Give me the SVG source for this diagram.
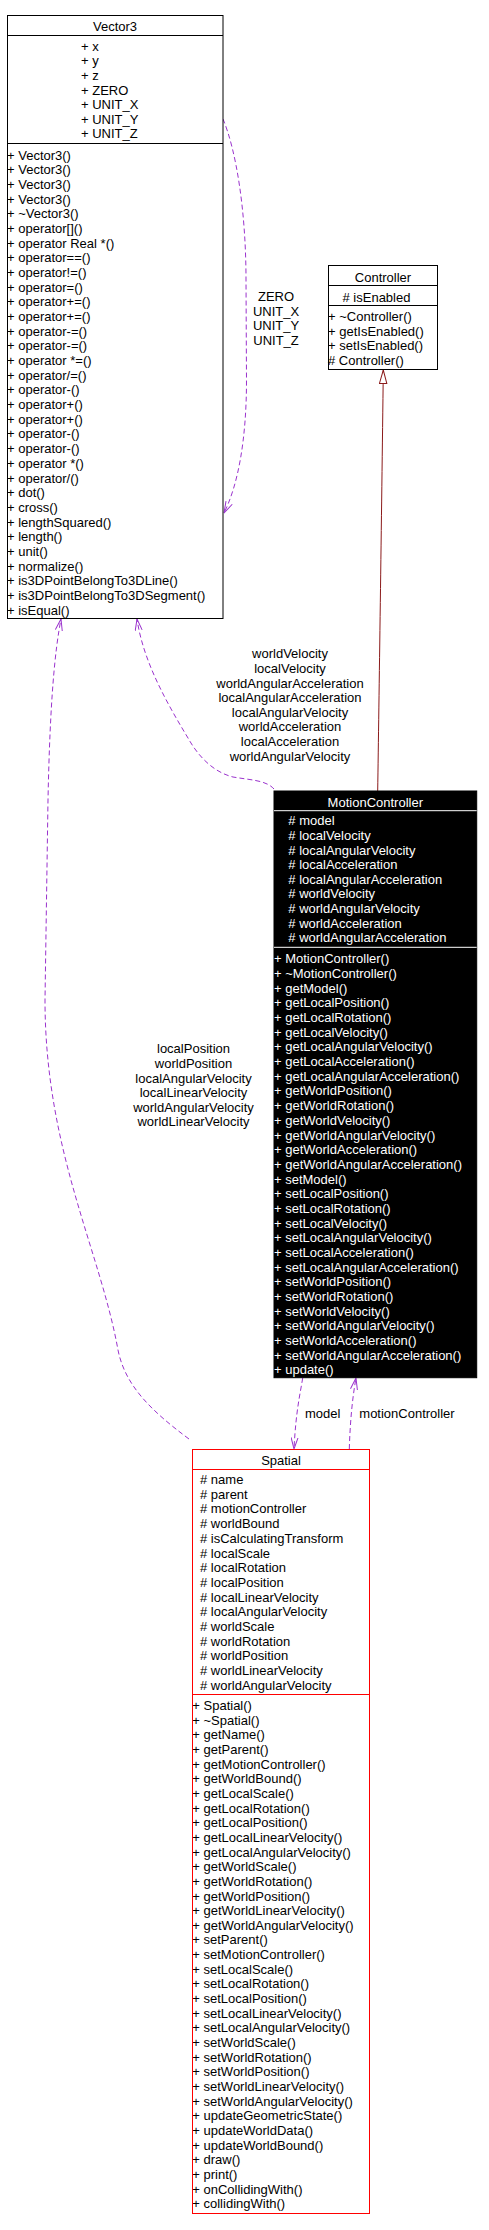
<svg xmlns="http://www.w3.org/2000/svg" width="489" height="2230" viewBox="0 0 489 2230">
<style>
text{font-family:"Liberation Sans",Arial,sans-serif;font-size:13px;fill:#000}
.c{text-anchor:middle}
.w{fill:#fff}
.box{fill:#fff;stroke:#000;stroke-width:1}
.sep{stroke:#000;stroke-width:1}
.dark{fill:#000;stroke:#000}
.wsep{stroke:#fff;stroke-width:1}
.red{fill:#fff;stroke:#ff0000;stroke-width:1}
.rsep{stroke:#ff0000;stroke-width:1}
.use{fill:none;stroke:#9a32cd;stroke-width:1;stroke-dasharray:5,3;marker-end:url(#vee)}
.inh{fill:none;stroke:#8b1a1a;stroke-width:1;marker-end:url(#tri)}
</style>
<defs>
<marker id="vee" markerUnits="userSpaceOnUse" markerWidth="12" markerHeight="8" viewBox="0 0 12 8" refX="11.5" refY="4" orient="auto">
<path d="M0,0.5 L11.5,4 L0,7.5" fill="none" stroke="#9a32cd" stroke-width="1"/>
</marker>
<marker id="tri" markerUnits="userSpaceOnUse" markerWidth="15" markerHeight="9" viewBox="0 0 15 9" refX="14" refY="4.5" orient="auto">
<path d="M0.5,0.8 L14,4.5 L0.5,8.2 Z" fill="#fff" stroke="#8b1a1a" stroke-width="1"/>
</marker>
</defs>

<g id="connectors">
<path class="inh" d="M377.7,791 C379,700 381.5,520 383.3,370"/>
<path class="use" d="M223,119 C236,150 246,210 246,280 L246.5,380 C246.5,440 238,485 224,513"/>
<path class="use" d="M274,789 C266,780 250,780 233,777 C213,772 198,756 188,738 C165,700 143,660 137,619"/>
<path class="use" d="M189,1439 C150,1410 125,1385 118,1350 C100,1250 45,1150 45,1000 L48,800 C50,700 55,650 61,619"/>
<path class="use" d="M302.7,1378 C300,1395 296,1410 294,1449"/>
<path class="use" d="M349.3,1449 C350,1425 352,1400 356,1378"/>
<g id="labels">
<text class="c" x="276" y="301">ZERO</text>
<text class="c" x="276" y="315.6">UNIT_X</text>
<text class="c" x="276" y="330.2">UNIT_Y</text>
<text class="c" x="276" y="344.8">UNIT_Z</text>
<text class="c" x="290" y="658.3">worldVelocity</text>
<text class="c" x="290" y="672.9">localVelocity</text>
<text class="c" x="290" y="687.5">worldAngularAcceleration</text>
<text class="c" x="290" y="702.1">localAngularAcceleration</text>
<text class="c" x="290" y="716.7">localAngularVelocity</text>
<text class="c" x="290" y="731.3">worldAcceleration</text>
<text class="c" x="290" y="745.9">localAcceleration</text>
<text class="c" x="290" y="760.5">worldAngularVelocity</text>
<text class="c" x="193.5" y="1053.3">localPosition</text>
<text class="c" x="193.5" y="1067.9">worldPosition</text>
<text class="c" x="193.5" y="1082.5">localAngularVelocity</text>
<text class="c" x="193.5" y="1097.1">localLinearVelocity</text>
<text class="c" x="193.5" y="1111.7">worldAngularVelocity</text>
<text class="c" x="193.5" y="1126.3">worldLinearVelocity</text>
<text class="c" x="322.7" y="1418.3">model</text>
<text x="359.3" y="1418.3">motionController</text>
</g>
</g>

<g id="Vector3">
<rect class="box" x="7.5" y="15.5" width="215.5" height="603"/>
<line class="sep" x1="7.5" y1="35.5" x2="223" y2="35.5"/>
<line class="sep" x1="7.5" y1="143.5" x2="223" y2="143.5"/>
<text class="c" x="115" y="30.5">Vector3</text>
<text x="81" y="50.7">+ x</text>
<text x="81" y="65.3">+ y</text>
<text x="81" y="79.9">+ z</text>
<text x="81" y="94.5">+ ZERO</text>
<text x="81" y="109.1">+ UNIT_X</text>
<text x="81" y="123.7">+ UNIT_Y</text>
<text x="81" y="138.3">+ UNIT_Z</text>
<text x="7" y="159.5">+ Vector3()</text>
<text x="7" y="174.2">+ Vector3()</text>
<text x="7" y="188.9">+ Vector3()</text>
<text x="7" y="203.5">+ Vector3()</text>
<text x="7" y="218.2">+ ~Vector3()</text>
<text x="7" y="232.9">+ operator[]()</text>
<text x="7" y="247.6">+ operator Real *()</text>
<text x="7" y="262.3">+ operator==()</text>
<text x="7" y="276.9">+ operator!=()</text>
<text x="7" y="291.6">+ operator=()</text>
<text x="7" y="306.3">+ operator+=()</text>
<text x="7" y="321">+ operator+=()</text>
<text x="7" y="335.7">+ operator-=()</text>
<text x="7" y="350.3">+ operator-=()</text>
<text x="7" y="365">+ operator *=()</text>
<text x="7" y="379.7">+ operator/=()</text>
<text x="7" y="394.4">+ operator-()</text>
<text x="7" y="409.1">+ operator+()</text>
<text x="7" y="423.7">+ operator+()</text>
<text x="7" y="438.4">+ operator-()</text>
<text x="7" y="453.1">+ operator-()</text>
<text x="7" y="467.8">+ operator *()</text>
<text x="7" y="482.5">+ operator/()</text>
<text x="7" y="497.1">+ dot()</text>
<text x="7" y="511.8">+ cross()</text>
<text x="7" y="526.5">+ lengthSquared()</text>
<text x="7" y="541.2">+ length()</text>
<text x="7" y="555.9">+ unit()</text>
<text x="7" y="570.5">+ normalize()</text>
<text x="7" y="585.2">+ is3DPointBelongTo3DLine()</text>
<text x="7" y="599.9">+ is3DPointBelongTo3DSegment()</text>
<text x="7" y="614.6">+ isEqual()</text>
</g>

<g id="Controller">
<rect class="box" x="328.5" y="265.5" width="109" height="104"/>
<line class="sep" x1="328.5" y1="285.5" x2="437.5" y2="285.5"/>
<line class="sep" x1="328.5" y1="305.5" x2="437.5" y2="305.5"/>
<text class="c" x="383" y="281.5">Controller</text>
<text x="342.5" y="301.5">#  isEnabled</text>
<text x="328" y="321">+ ~Controller()</text>
<text x="328" y="335.7">+ getIsEnabled()</text>
<text x="328" y="350.4">+ setIsEnabled()</text>
<text x="328" y="365.1"># Controller()</text>
</g>

<g id="MotionController">
<rect class="dark" x="274" y="791" width="202.7" height="586.7"/>
<line class="wsep" x1="274" y1="810.7" x2="476.7" y2="810.7"/>
<line class="wsep" x1="274" y1="947.3" x2="476.7" y2="947.3"/>
<text class="c w" x="375.3" y="807">MotionController</text>
<text class="w" x="288.3" y="825.3">#  model</text>
<text class="w" x="288.3" y="839.9">#  localVelocity</text>
<text class="w" x="288.3" y="854.5">#  localAngularVelocity</text>
<text class="w" x="288.3" y="869.1">#  localAcceleration</text>
<text class="w" x="288.3" y="883.7">#  localAngularAcceleration</text>
<text class="w" x="288.3" y="898.3">#  worldVelocity</text>
<text class="w" x="288.3" y="912.9">#  worldAngularVelocity</text>
<text class="w" x="288.3" y="927.5">#  worldAcceleration</text>
<text class="w" x="288.3" y="942.1">#  worldAngularAcceleration</text>
<text class="w" x="274" y="963.3">+ MotionController()</text>
<text class="w" x="274" y="978">+ ~MotionController()</text>
<text class="w" x="274" y="992.7">+ getModel()</text>
<text class="w" x="274" y="1007.3">+ getLocalPosition()</text>
<text class="w" x="274" y="1022">+ getLocalRotation()</text>
<text class="w" x="274" y="1036.7">+ getLocalVelocity()</text>
<text class="w" x="274" y="1051.4">+ getLocalAngularVelocity()</text>
<text class="w" x="274" y="1066.1">+ getLocalAcceleration()</text>
<text class="w" x="274" y="1080.7">+ getLocalAngularAcceleration()</text>
<text class="w" x="274" y="1095.4">+ getWorldPosition()</text>
<text class="w" x="274" y="1110.1">+ getWorldRotation()</text>
<text class="w" x="274" y="1124.8">+ getWorldVelocity()</text>
<text class="w" x="274" y="1139.5">+ getWorldAngularVelocity()</text>
<text class="w" x="274" y="1154.1">+ getWorldAcceleration()</text>
<text class="w" x="274" y="1168.8">+ getWorldAngularAcceleration()</text>
<text class="w" x="274" y="1183.5">+ setModel()</text>
<text class="w" x="274" y="1198.2">+ setLocalPosition()</text>
<text class="w" x="274" y="1212.9">+ setLocalRotation()</text>
<text class="w" x="274" y="1227.5">+ setLocalVelocity()</text>
<text class="w" x="274" y="1242.2">+ setLocalAngularVelocity()</text>
<text class="w" x="274" y="1256.9">+ setLocalAcceleration()</text>
<text class="w" x="274" y="1271.6">+ setLocalAngularAcceleration()</text>
<text class="w" x="274" y="1286.3">+ setWorldPosition()</text>
<text class="w" x="274" y="1300.9">+ setWorldRotation()</text>
<text class="w" x="274" y="1315.6">+ setWorldVelocity()</text>
<text class="w" x="274" y="1330.3">+ setWorldAngularVelocity()</text>
<text class="w" x="274" y="1345">+ setWorldAcceleration()</text>
<text class="w" x="274" y="1359.7">+ setWorldAngularAcceleration()</text>
<text class="w" x="274" y="1374.3">+ update()</text>
</g>

<g id="Spatial">
<rect class="red" x="192.5" y="1449.5" width="177" height="764"/>
<line class="rsep" x1="192.5" y1="1469.5" x2="369.5" y2="1469.5"/>
<line class="rsep" x1="192.5" y1="1694.5" x2="369.5" y2="1694.5"/>
<text class="c" x="281" y="1465.3">Spatial</text>
<text x="200" y="1484">#  name</text>
<text x="200" y="1498.7">#  parent</text>
<text x="200" y="1513.4">#  motionController</text>
<text x="200" y="1528.1">#  worldBound</text>
<text x="200" y="1542.8">#  isCalculatingTransform</text>
<text x="200" y="1557.5">#  localScale</text>
<text x="200" y="1572.1">#  localRotation</text>
<text x="200" y="1586.8">#  localPosition</text>
<text x="200" y="1601.5">#  localLinearVelocity</text>
<text x="200" y="1616.2">#  localAngularVelocity</text>
<text x="200" y="1630.9">#  worldScale</text>
<text x="200" y="1645.6">#  worldRotation</text>
<text x="200" y="1660.3">#  worldPosition</text>
<text x="200" y="1675">#  worldLinearVelocity</text>
<text x="200" y="1689.7">#  worldAngularVelocity</text>
<text x="192.3" y="1710">+ Spatial()</text>
<text x="192.3" y="1724.7">+ ~Spatial()</text>
<text x="192.3" y="1739.3">+ getName()</text>
<text x="192.3" y="1754">+ getParent()</text>
<text x="192.3" y="1768.6">+ getMotionController()</text>
<text x="192.3" y="1783.3">+ getWorldBound()</text>
<text x="192.3" y="1797.9">+ getLocalScale()</text>
<text x="192.3" y="1812.6">+ getLocalRotation()</text>
<text x="192.3" y="1827.2">+ getLocalPosition()</text>
<text x="192.3" y="1841.9">+ getLocalLinearVelocity()</text>
<text x="192.3" y="1856.5">+ getLocalAngularVelocity()</text>
<text x="192.3" y="1871.2">+ getWorldScale()</text>
<text x="192.3" y="1885.8">+ getWorldRotation()</text>
<text x="192.3" y="1900.5">+ getWorldPosition()</text>
<text x="192.3" y="1915.1">+ getWorldLinearVelocity()</text>
<text x="192.3" y="1929.8">+ getWorldAngularVelocity()</text>
<text x="192.3" y="1944.4">+ setParent()</text>
<text x="192.3" y="1959.1">+ setMotionController()</text>
<text x="192.3" y="1973.7">+ setLocalScale()</text>
<text x="192.3" y="1988.4">+ setLocalRotation()</text>
<text x="192.3" y="2003">+ setLocalPosition()</text>
<text x="192.3" y="2017.7">+ setLocalLinearVelocity()</text>
<text x="192.3" y="2032.3">+ setLocalAngularVelocity()</text>
<text x="192.3" y="2047">+ setWorldScale()</text>
<text x="192.3" y="2061.6">+ setWorldRotation()</text>
<text x="192.3" y="2076.3">+ setWorldPosition()</text>
<text x="192.3" y="2090.9">+ setWorldLinearVelocity()</text>
<text x="192.3" y="2105.6">+ setWorldAngularVelocity()</text>
<text x="192.3" y="2120.2">+ updateGeometricState()</text>
<text x="192.3" y="2134.9">+ updateWorldData()</text>
<text x="192.3" y="2149.5">+ updateWorldBound()</text>
<text x="192.3" y="2164.2">+ draw()</text>
<text x="192.3" y="2178.8">+ print()</text>
<text x="192.3" y="2193.5">+ onCollidingWith()</text>
<text x="192.3" y="2208.1">+ collidingWith()</text>
</g>
</svg>
